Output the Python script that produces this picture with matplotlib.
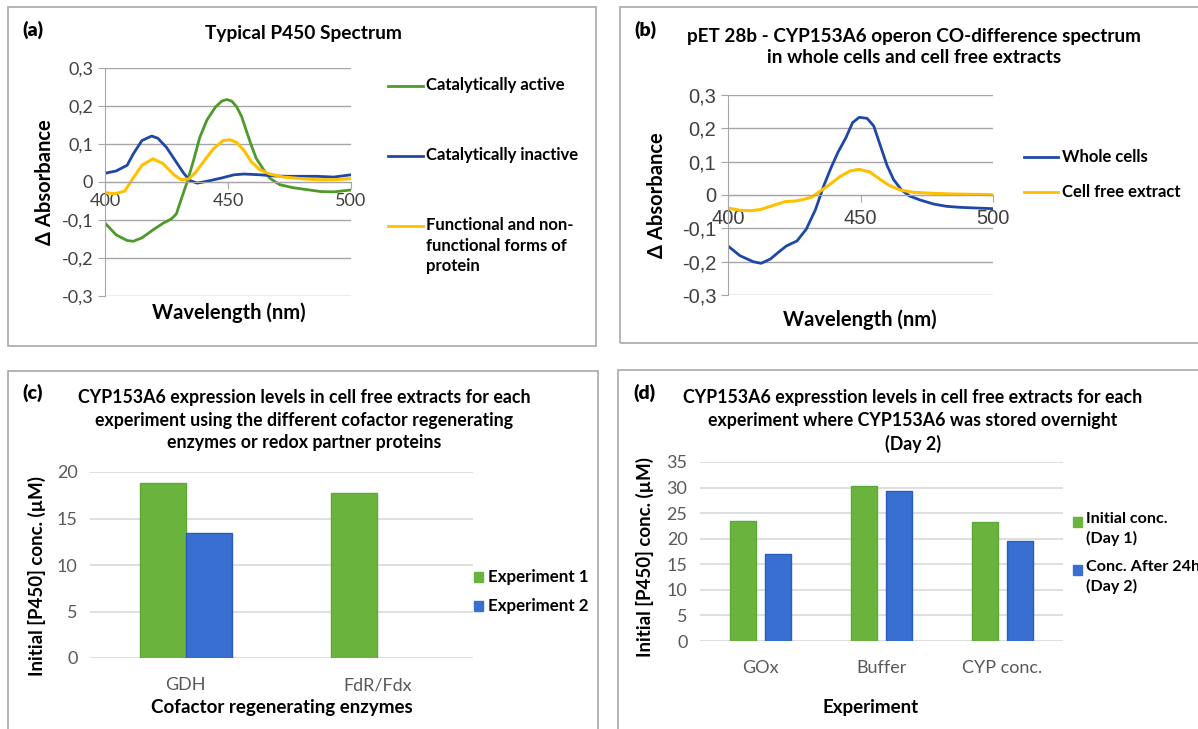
import matplotlib
matplotlib.use("Agg")
import matplotlib.pyplot as plt
from matplotlib.patches import Rectangle
from matplotlib.ticker import FuncFormatter

plt.rcParams['font.family'] = ['Lato', 'DejaVu Sans']

W, H = 1198, 729

# (a) typical P450 spectrum
wl_active = [400, 404.5, 409, 411.5, 415, 419.5, 423.5, 427, 429, 431, 433.5, 436, 438.5,
             441.5, 445, 447.5, 449.5, 451.5, 453.5, 455.5, 457.5, 459.5, 461.5, 464.5,
             467, 471, 476.5, 482, 487.5, 493, 500]
active = [-0.108, -0.139, -0.154, -0.156, -0.147, -0.126, -0.109, -0.097, -0.084, -0.045,
          0.002, 0.057, 0.117, 0.164, 0.198, 0.213, 0.217, 0.213, 0.198, 0.173, 0.134,
          0.096, 0.062, 0.032, 0.01, -0.007, -0.015, -0.02, -0.025, -0.026, -0.021]
wl_inactive = [400, 404.5, 409, 411.5, 415, 419, 421.5, 425, 428.5, 432, 434.5, 437.5,
               441.5, 447, 452.5, 456.5, 463, 468.5, 474, 479.5, 486, 493, 500]
inactive = [0.023, 0.029, 0.044, 0.074, 0.109, 0.121, 0.115, 0.091, 0.057, 0.023, 0.004,
            -0.003, 0.002, 0.01, 0.019, 0.021, 0.019, 0.016, 0.015, 0.015, 0.015, 0.013, 0.019]
wl_mixed = [400, 404, 408, 411, 415, 419.5, 423.5, 428, 431, 434, 436.5, 440, 444, 448,
            451, 453.5, 456.5, 459.5, 463, 467, 472.5, 479.5, 486, 493, 500]
mixed = [-0.028, -0.031, -0.024, 0.006, 0.044, 0.061, 0.049, 0.019, 0.006, 0.008, 0.023,
         0.053, 0.087, 0.109, 0.111, 0.104, 0.083, 0.053, 0.032, 0.021, 0.013, 0.009,
         0.006, 0.006, 0.009]

# (b) CO-difference spectrum
wl_whole = [400, 404.5, 409.5, 412.5, 416, 419, 422, 426, 429.5, 433, 436, 439, 441.5,
            444.5, 447, 449.5, 452.5, 455, 457.5, 460, 462.5, 465.5, 468.5, 472.5, 477.5,
            482.5, 487.5, 493.5, 500]
whole = [-0.153, -0.182, -0.2, -0.205, -0.192, -0.172, -0.153, -0.138, -0.103, -0.044,
         0.025, 0.084, 0.128, 0.172, 0.217, 0.233, 0.23, 0.207, 0.148, 0.089, 0.046,
         0.015, -0.003, -0.015, -0.027, -0.034, -0.037, -0.039, -0.041]
wl_cfe = [400, 404.5, 408.5, 412, 416, 421.5, 425.5, 428.5, 431.5, 434.5, 438.5, 442,
          446, 449.5, 453.5, 456.5, 460.5, 465, 470, 477.5, 485, 492.5, 500]
cfe = [-0.039, -0.046, -0.047, -0.044, -0.034, -0.02, -0.018, -0.013, -0.007, 0.01, 0.032,
       0.054, 0.072, 0.077, 0.069, 0.052, 0.03, 0.015, 0.008, 0.005, 0.003, 0.002, 0.001]

# (c) expression levels per cofactor system
cof_labels = ['GDH', 'FdR/Fdx']
exp1 = [18.8, 17.7]
exp2 = [13.4, None]

# (d) storage overnight
exp_labels = ['GOx', 'Buffer', 'CYP conc.']
day1 = [23.4, 30.4, 23.2]
day2 = [17.1, 29.4, 19.6]

GREEN_L = '#4d9a2a'
BLUE_L = '#1f47a6'
YELLOW = '#ffc000'
GREEN_B = '#6ab43e'
BLUE_B = '#3a6fd2'
GRID = '#a6a6a6'
TICK = '#404040'


def fx(x):
    return x / W


def fy(y):
    return 1 - y / H


def px_axes(fig, x0, y0, x1, y1):
    return fig.add_axes([fx(x0), fy(y1), fx(x1 - x0), (y1 - y0) / H])


def ftext(fig, x, y, s, **kw):
    kw.setdefault('ha', 'center')
    kw.setdefault('va', 'center')
    fig.text(fx(x), fy(y), s, **kw)


comma = FuncFormatter(lambda v, p: ('0' if abs(v) < 1e-9 else ('%.1f' % v).replace('.', ',')))

fig = plt.figure(figsize=(W / 100, H / 100), dpi=100)

# panel frames
for (x0, y0, x1, y1) in [(8, 7, 596, 346), (8, 371, 598, 740), (620, 7, 1210, 343), (618, 370, 1210, 740)]:
    fig.patches.append(Rectangle((fx(x0), fy(y1)), fx(x1 - x0), (y1 - y0) / H,
                                 transform=fig.transFigure, fill=False,
                                 edgecolor='#a8a8a8', linewidth=1.2))


def spectrum_axes(ax, tickfont, tsize, xpad):
    ax.set_xlim(400, 500)
    ax.set_ylim(-0.3, 0.3)
    ax.set_yticks([-0.3, -0.2, -0.1, 0, 0.1, 0.2, 0.3])
    ax.yaxis.set_major_formatter(comma)
    ax.set_xticks([400, 450, 500])
    ax.grid(axis='y', color=GRID, linewidth=1.0)
    ax.set_axisbelow(True)
    for s in ['top', 'right']:
        ax.spines[s].set_visible(False)
    ax.spines['bottom'].set_position(('data', 0))
    ax.spines['bottom'].set_color(GRID)
    ax.spines['left'].set_color(GRID)
    ax.tick_params(axis='y', length=5, color=GRID, labelsize=tsize, labelcolor=TICK)
    ax.tick_params(axis='x', length=5, color=GRID, labelsize=tsize, labelcolor=TICK, pad=xpad)
    for lab in ax.get_xticklabels() + ax.get_yticklabels():
        lab.set_fontfamily(tickfont)


# (a)
ax = px_axes(fig, 105, 68, 351, 296)
ax.plot(wl_active, active, color=GREEN_L, lw=2, label='Catalytically active')
ax.plot(wl_inactive, inactive, color=BLUE_L, lw=2, label='Catalytically inactive')
ax.plot(wl_mixed, mixed, color=YELLOW, lw=2.2, label='Functional and non-\nfunctional forms of\nprotein')
spectrum_axes(ax, 'Lato', 13, 3)
ftext(fig, 33, 30, '(a)', fontsize=14, fontweight='heavy')
ftext(fig, 303, 34, 'Typical P450 Spectrum', fontsize=13.8, fontweight='bold')
ftext(fig, 229, 313, 'Wavelength (nm)', fontsize=14.5, fontweight='bold')
ftext(fig, 45, 182, 'Δ Absorbance', fontsize=14.5, fontweight='bold', rotation=90)
for line, ly in zip(ax.get_lines(), [86, 156, 226]):
    fig.add_artist(plt.Line2D([fx(388), fx(423)], [fy(ly), fy(ly)], color=line.get_color(), lw=2))
    fig.text(fx(426), fy(ly - 9), line.get_label(), fontsize=12, fontweight='bold',
             ha='left', va='top', linespacing=1.35)

# (b)
ax = px_axes(fig, 728, 95, 993, 295)
ax.plot(wl_whole, whole, color=BLUE_L, lw=2, label='Whole cells')
ax.plot(wl_cfe, cfe, color=YELLOW, lw=2.2, label='Cell free extract')
spectrum_axes(ax, 'Liberation Sans', 14.5, 5)
ftext(fig, 645, 30, '(b)', fontsize=14, fontweight='heavy')
ftext(fig, 914, 47, 'pET 28b - CYP153A6 operon CO-difference spectrum\nin whole cells and cell free extracts',
      fontsize=13.6, fontweight='bold', linespacing=1.35)
ftext(fig, 860, 320, 'Wavelength (nm)', fontsize=14.5, fontweight='bold')
ftext(fig, 657, 195, 'Δ Absorbance', fontsize=14.5, fontweight='bold', rotation=90)
for line, ly in zip(ax.get_lines(), [157, 192]):
    fig.add_artist(plt.Line2D([fx(1024), fx(1058)], [fy(ly), fy(ly)], color=line.get_color(), lw=2))
    fig.text(fx(1062), fy(ly), line.get_label(), fontsize=12, fontweight='bold', ha='left', va='center')


def bar_axes(ax, labels, ymax, step):
    ax.set_xlim(-0.5, len(labels) - 0.5)
    ax.set_ylim(0, ymax)
    ax.set_yticks(range(0, ymax + 1, step))
    ax.set_xticks(range(len(labels)))
    ax.set_xticklabels(labels)
    ax.grid(axis='y', color='#d9d9d9', linewidth=1.2)
    ax.set_axisbelow(True)
    for s in ['top', 'right', 'left', 'bottom']:
        ax.spines[s].set_visible(False)
    ax.tick_params(axis='both', length=0, labelsize=13, labelcolor='#595959')
    ax.tick_params(axis='x', pad=14)
    ax.tick_params(axis='y', pad=9)


# (c)
ax = px_axes(fig, 90, 472, 473, 658)
xs = range(len(cof_labels))
ax.bar([x - 0.12 for x in xs], [v or 0 for v in exp1], width=0.24, color=GREEN_B,
       edgecolor='#5ea83a', lw=1, label='Experiment 1')
ax.bar([x + 0.12 for x, v in zip(xs, exp2) if v is not None], [v for v in exp2 if v is not None],
       width=0.24, color=BLUE_B, edgecolor='#2a5cc0', lw=1, label='Experiment 2')
bar_axes(ax, cof_labels, 20, 5)
ftext(fig, 33, 393, '(c)', fontsize=14, fontweight='heavy')
ftext(fig, 304, 420, 'CYP153A6 expression levels in cell free extracts for each\n'
      'experiment using the different cofactor regenerating\nenzymes or redox partner proteins',
      fontsize=12.8, fontweight='bold', linespacing=1.4)
ftext(fig, 282, 708, 'Cofactor regenerating enzymes', fontsize=13.5, fontweight='bold')
ftext(fig, 37, 576, 'Initial [P450] conc. (µM)', fontsize=13.5, fontweight='bold', rotation=90)
for col, lab, ly in [(GREEN_B, 'Experiment 1', 577), (BLUE_B, 'Experiment 2', 606)]:
    fig.patches.append(Rectangle((fx(474), fy(ly + 5)), fx(9), 10 / H, transform=fig.transFigure,
                                 facecolor=col, edgecolor=col))
    fig.text(fx(488), fy(ly), lab, fontsize=12.2, fontweight='bold', ha='left', va='center')

# (d)
ax = px_axes(fig, 700, 462, 1063, 641)
xs = range(len(exp_labels))
ax.bar([x - 0.145 for x in xs], day1, width=0.215, color=GREEN_B, edgecolor='#5ea83a', lw=1)
ax.bar([x + 0.145 for x in xs], day2, width=0.215, color=BLUE_B, edgecolor='#2a5cc0', lw=1)
bar_axes(ax, exp_labels, 35, 5)
ftext(fig, 644, 393, '(d)', fontsize=14, fontweight='heavy')
ftext(fig, 913, 421, 'CYP153A6 expresstion levels in cell free extracts for each\n'
      'experiment where CYP153A6 was stored overnight\n(Day 2)',
      fontsize=12.8, fontweight='bold', linespacing=1.4)
ftext(fig, 871, 708, 'Experiment', fontsize=13.5, fontweight='bold')
ftext(fig, 645, 557, 'Initial [P450] conc. (µM)', fontsize=13.5, fontweight='bold', rotation=90)
for col, lab, ly in [(GREEN_B, 'Initial conc.\n(Day 1)', 522), (BLUE_B, 'Conc. After 24h\n(Day 2)', 570)]:
    fig.patches.append(Rectangle((fx(1073), fy(ly + 5)), fx(9), 10 / H, transform=fig.transFigure,
                                 facecolor=col, edgecolor=col))
    fig.text(fx(1086), fy(ly - 10), lab, fontsize=11.6, fontweight='bold', ha='left', va='top',
             linespacing=1.45)

fig.savefig('out.png', dpi=100)
